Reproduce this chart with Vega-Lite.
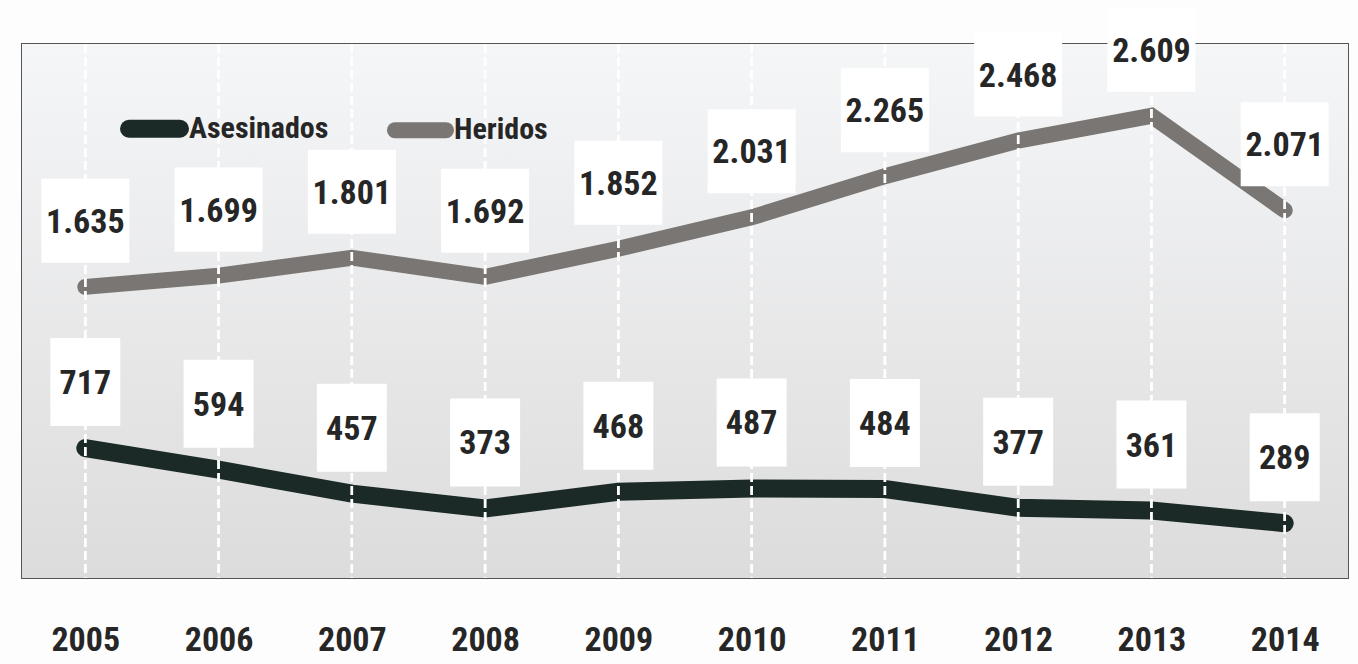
{
  "$schema": "https://vega.github.io/schema/vega-lite/v6.json",
  "autosize": "none",
  "width": 1326,
  "height": 534,
  "padding": {"left": 22, "top": 44, "right": 10, "bottom": 86},
  "background": "#fdfdfd",
  "config": {
    "locale": {"number": {"decimal": ",", "thousands": ".", "grouping": [3], "currency": ["", ""]}},
    "view": {"stroke": "#555555", "strokeWidth": 2, "fill": "#e8e8e8"},
    "font": "Roboto Condensed, Roboto, sans-serif"
  },
  "data": {
    "values": [
      {"year": "2005", "series": "Asesinados", "value": 717},
      {"year": "2006", "series": "Asesinados", "value": 594},
      {"year": "2007", "series": "Asesinados", "value": 457},
      {"year": "2008", "series": "Asesinados", "value": 373},
      {"year": "2009", "series": "Asesinados", "value": 468},
      {"year": "2010", "series": "Asesinados", "value": 487},
      {"year": "2011", "series": "Asesinados", "value": 484},
      {"year": "2012", "series": "Asesinados", "value": 377},
      {"year": "2013", "series": "Asesinados", "value": 361},
      {"year": "2014", "series": "Asesinados", "value": 289},
      {"year": "2005", "series": "Heridos", "value": 1635},
      {"year": "2006", "series": "Heridos", "value": 1699},
      {"year": "2007", "series": "Heridos", "value": 1801},
      {"year": "2008", "series": "Heridos", "value": 1692},
      {"year": "2009", "series": "Heridos", "value": 1852},
      {"year": "2010", "series": "Heridos", "value": 2031},
      {"year": "2011", "series": "Heridos", "value": 2265},
      {"year": "2012", "series": "Heridos", "value": 2468},
      {"year": "2013", "series": "Heridos", "value": 2609},
      {"year": "2014", "series": "Heridos", "value": 2071}
    ]
  },
  "encoding": {
    "x": {
      "field": "year", "type": "ordinal",
      "scale": {"type": "point", "padding": 0.475},
      "axis": {
        "title": null, "domain": false, "ticks": false, "grid": false,
        "labelAngle": 0, "labelFontSize": 34, "labelFontWeight": "bold",
        "labelColor": "#262626", "labelPadding": 45
      }
    },
    "y": {
      "field": "value", "type": "quantitative",
      "scale": {"domain": [-23, 3018], "nice": false, "zero": false},
      "axis": null
    }
  },
  "layer": [
    {
      "data": {"values": [{}]},
      "mark": {
        "type": "rect",
        "fill": {
          "gradient": "linear", "x1": 0, "y1": 0, "x2": 0, "y2": 1,
          "stops": [{"offset": 0, "color": "#f5f6f8"}, {"offset": 1, "color": "#dcdcdc"}]
        }
      },
      "encoding": {"x": null, "y": null}
    },
    {
      "mark": {"type": "line", "strokeCap": "round", "strokeJoin": "miter"},
      "encoding": {
        "color": {
          "field": "series", "type": "nominal",
          "scale": {"domain": ["Asesinados", "Heridos"], "range": ["#1b2a27", "#7a7673"]},
          "legend": {
            "title": null, "orient": "none", "legendX": 98, "legendY": 50,
            "direction": "horizontal", "symbolType": "stroke", "symbolStrokeWidth": 14,
            "symbolSize": 2601, "labelFontSize": 30, "labelFontWeight": "bold",
            "labelColor": "#262626", "labelOffset": 0, "columnPadding": 34, "labelLimit": 400,
            "symbolOpacity": 1,
            "encode": {"symbols": {"update": {"strokeCap": {"value": "round"}}}}
          }
        },
        "strokeWidth": {
          "field": "series", "type": "nominal",
          "scale": {"domain": ["Asesinados", "Heridos"], "range": [18, 16]},
          "legend": null
        }
      }
    },
    {
      "mark": {"type": "rule", "color": "#ffffff", "strokeWidth": 2.5, "strokeDash": [9, 4], "opacity": 0.95},
      "encoding": {"y": null}
    },
    {
      "transform": [{"filter": "datum.series === 'Asesinados'"}],
      "mark": {"type": "point", "shape": "M-0.795,-1H0.795V1H-0.795Z", "filled": true, "fill": "#ffffff", "opacity": 1, "strokeWidth": 0, "yOffset": -66, "size": 7744}
    },
    {
      "transform": [{"filter": "datum.series === 'Heridos'"}],
      "mark": {"type": "point", "shape": "M-1,-0.955H1V0.955H-1Z", "filled": true, "fill": "#ffffff", "opacity": 1, "strokeWidth": 0, "yOffset": -66, "size": 7744}
    },
    {
      "mark": {"type": "text", "fontSize": 34, "fontWeight": "bold", "color": "#262626", "baseline": "middle", "dy": -64},
      "encoding": {
        "text": {"field": "value", "type": "quantitative", "format": ",d"}
      }
    }
  ]
}
